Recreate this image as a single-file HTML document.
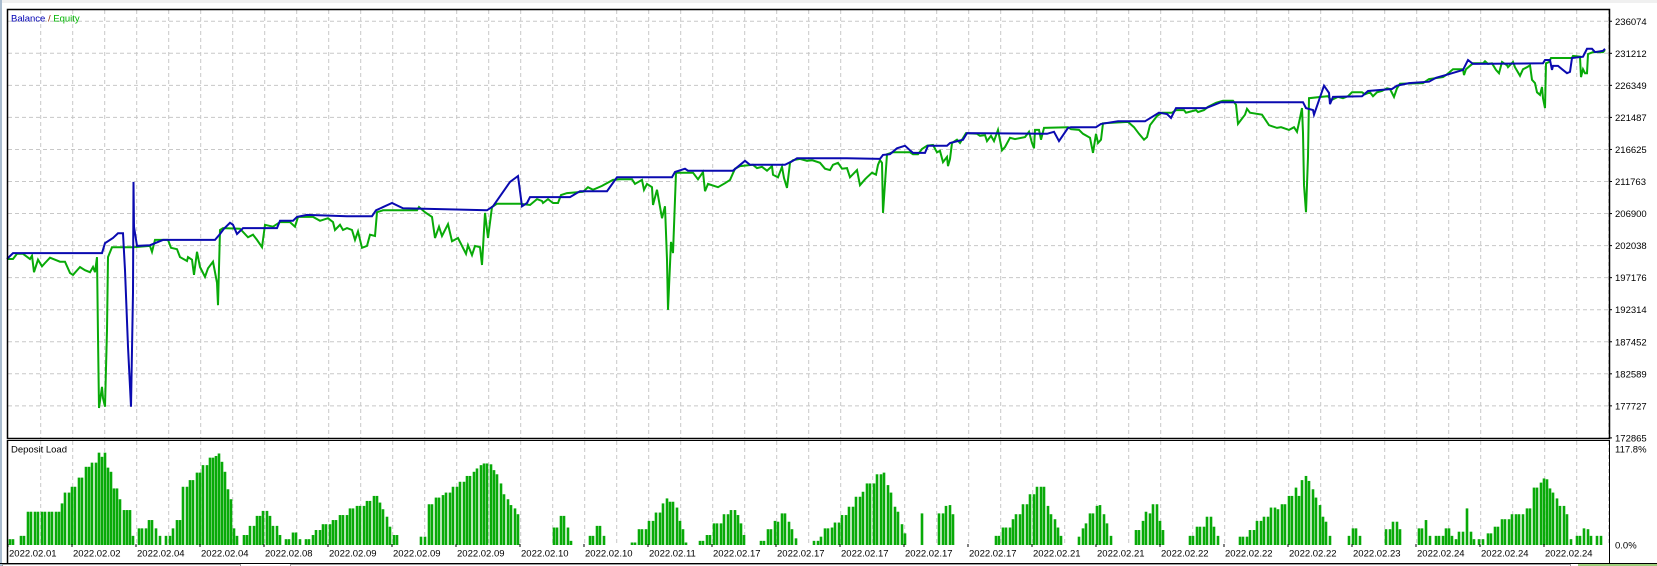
<!DOCTYPE html>
<html>
<head>
<meta charset="utf-8">
<style>
  html,body{margin:0;padding:0;background:#fff;}
  body{width:1657px;height:566px;overflow:hidden;}
  svg{display:block;font-family:"Liberation Sans",Arial,sans-serif;}
</style>
</head>
<body>
<svg id="chart" width="1657" height="566" viewBox="0 0 1657 566" xmlns="http://www.w3.org/2000/svg">
  <rect x="0" y="0" width="1657" height="566" fill="#ffffff"/>
  <rect x="0" y="0" width="1657" height="3" fill="#f0f0f0"/>
  <rect x="0" y="0" width="2" height="566" fill="#a9bccf"/>
  <g id="grid"></g>
  <g id="bars"></g>
  <g id="lines"></g>
  <g id="frames">
    <rect x="7.5" y="9.5" width="1602" height="429" fill="none" stroke="#000" stroke-width="1.5"/>
    <line x1="7.5" y1="440.5" x2="1609.5" y2="440.5" stroke="#000" stroke-width="1"/>
    <line x1="7.5" y1="440" x2="7.5" y2="563" stroke="#000" stroke-width="1.5"/>
    <line x1="1609.5" y1="440" x2="1609.5" y2="563" stroke="#000" stroke-width="1"/>
    <line x1="0" y1="563.5" x2="1657" y2="563.5" stroke="#000" stroke-width="1"/>
    <rect x="2.5" y="564.5" width="238" height="4" fill="#fff" stroke="#999"/>
    <rect x="290.5" y="564.5" width="1280" height="4" fill="#fff" stroke="#999"/>
    <rect x="1578" y="564" width="79" height="3" fill="#9ccf7a"/>
  </g>
  <text x="11" y="21.5" font-size="9.5"><tspan fill="#0000b4">Balance</tspan><tspan fill="#8b2a00"> / </tspan><tspan fill="#00b400">Equity</tspan></text>
  <text x="11" y="452.5" font-size="9.5" fill="#000">Deposit Load</text>
  <g id="yaxis"></g>
  <g id="xaxis"></g>
</svg>
<script>
// ---- data (balance/equity in thousands, time in chart time units) ----
const yTicks = ["236074","231212","226349","221487","216625","211763","206900","202038","197176","192314","187452","182589","177727","172865"];
const loadTicks = ["117.8%","0.0%"];
const dateLabels = ["2022.02.01","2022.02.02","2022.02.04","2022.02.04","2022.02.08","2022.02.09","2022.02.09","2022.02.09","2022.02.10","2022.02.10","2022.02.11","2022.02.17","2022.02.17","2022.02.17","2022.02.17","2022.02.17","2022.02.21","2022.02.21","2022.02.22","2022.02.22","2022.02.22","2022.02.23","2022.02.24","2022.02.24","2022.02.24"];

const balT = [7,13,23,102,105,113,118,123,125,128,131,133,133.5,134,137,150,163,215,220,224,230,233,237,243,277,280,293,297,307,347,372,376,392,403,487,493,510,518,522,527,530,570,580,607,617,672,675,685,688,733,745,750,785,793,797,847,880,883,890,897,905,910,913,925,928,947,950,963,967,1047,1054,1059,1068,1071,1096,1101,1118,1145,1159,1167,1171,1176,1206,1221,1303,1306,1313,1314,1324,1329,1330,1333,1362,1368,1392,1397,1409,1429,1436,1450,1463,1468,1473,1543,1545,1550,1552,1553,1558,1562,1567,1570,1572,1583,1587,1592,1595,1603,1605];
const balV = [200.0,200.9,200.9,200.9,202.4,203.2,203.9,203.9,198.3,186.7,177.6,194.9,211.7,204.9,202.0,202.1,202.9,202.9,203.8,204.6,205.5,205.2,203.8,204.7,204.7,205.8,205.8,206.4,206.7,206.5,206.5,207.4,208.5,207.7,207.4,208.0,211.7,212.6,208.0,208.5,209.4,209.4,210.3,210.3,212.4,212.4,213.2,213.7,213.4,213.4,214.9,214.3,214.3,214.9,215.3,215.3,215.2,215.8,215.9,216.8,217.2,216.5,216.1,216.1,217.2,217.2,217.6,218.1,219.1,219.0,219.3,217.9,219.9,220.0,220.0,220.5,220.9,220.9,222.2,222.0,221.4,222.9,222.9,223.8,223.8,222.9,222.6,221.9,226.3,225.2,223.5,224.6,224.7,225.5,225.8,226.3,226.7,226.9,227.5,228.1,228.7,230.2,229.6,229.7,230.2,230.2,228.7,229.3,229.3,228.8,228.2,228.4,230.5,230.7,231.9,231.9,231.4,231.6,231.9];

const eqT = [7,13,17,23,30,32,34,38,42,45,50,60,65,70,73,80,85,90,93,95,97,98,99,102,103,105,107,108,112,133,150,152,155,168,171,177,180,187,188,192,194,197,200,205,208,213,217,218,220,223,240,248,253,257,262,265,273,280,290,295,298,313,320,328,333,335,340,343,347,352,355,358,362,367,370,375,377,383,417,419,425,432,435,439,442,448,452,458,466,468,472,475,480,482,485,488,492,497,520,530,537,542,543,548,553,558,561,567,583,588,593,602,613,620,632,635,642,644,647,652,653,657,662,665,667,668,671,673,676,693,698,703,705,708,718,725,730,735,740,753,757,762,767,772,773,778,782,784,787,790,793,800,807,812,820,825,830,833,838,842,847,850,857,860,865,867,872,876,878,880,882,883,885,887,893,910,913,918,922,927,933,937,940,943,947,948,950,952,957,960,966,977,980,985,987,991,994,998,1002,1005,1010,1015,1025,1029,1032,1034,1035,1039,1041,1044,1068,1071,1079,1083,1090,1093,1096,1098,1101,1103,1128,1134,1139,1144,1147,1150,1157,1162,1172,1176,1184,1186,1196,1198,1204,1208,1216,1223,1233,1236,1238,1245,1247,1250,1262,1269,1277,1281,1289,1294,1297,1300,1302,1303,1304,1306,1308,1309,1321,1328,1331,1338,1343,1348,1352,1362,1365,1370,1373,1377,1382,1387,1390,1394,1397,1400,1423,1429,1443,1446,1453,1463,1464,1466,1473,1483,1485,1488,1492,1496,1499,1502,1507,1508,1513,1515,1520,1523,1527,1530,1532,1535,1537,1540,1542,1543,1545,1546,1549,1551,1572,1573,1580,1581,1583,1585,1587,1588,1593,1603,1605];
const eqV = [200.0,200.0,200.8,200.8,200.0,200.5,198.0,199.9,198.9,199.4,200.2,199.6,199.6,197.9,197.6,198.8,198.3,198.0,198.8,198.0,200.3,188.2,177.4,180.6,178.9,177.6,189.2,200.3,201.8,201.8,202.0,201.1,202.9,202.9,201.7,201.5,200.3,199.7,200.3,199.9,197.6,201.1,198.8,197.3,198.6,199.6,196.4,193.0,204.4,204.7,204.6,203.3,203.7,202.9,201.8,205.2,204.9,205.6,205.6,204.9,206.4,206.4,205.8,206.2,205.6,204.4,205.2,204.4,204.7,204.4,202.9,204.2,201.7,202.0,203.7,203.5,207.1,207.4,207.4,207.9,207.1,206.4,203.2,204.9,203.5,205.3,202.7,203.2,200.8,202.1,200.6,202.0,201.8,199.1,207.0,203.2,207.9,208.4,208.4,208.2,209.1,208.8,208.5,209.1,208.5,208.5,209.7,210.0,210.2,210.9,210.5,211.1,212.0,212.1,212.1,211.4,212.0,210.5,211.4,210.9,208.2,210.5,206.2,208.0,199.9,192.3,202.6,200.9,213.1,213.1,212.1,213.2,210.3,211.4,210.9,211.5,212.0,213.7,214.1,214.3,213.8,214.0,213.4,214.1,212.8,212.4,214.0,212.3,210.8,214.6,215.0,215.2,214.9,215.0,214.6,213.7,213.5,214.3,214.6,213.7,213.8,212.4,213.5,211.2,212.1,212.4,213.1,212.8,214.3,215.0,214.6,207.0,211.5,215.9,216.2,216.2,215.9,215.9,216.7,217.2,217.3,216.2,216.4,214.7,215.5,214.1,215.2,217.6,218.1,217.6,219.1,219.0,218.7,218.8,217.9,218.7,217.9,219.6,216.5,217.0,218.4,218.2,218.5,219.3,217.6,216.8,219.6,219.6,218.1,219.9,220.0,219.7,219.6,219.0,218.4,216.1,219.0,217.6,218.1,220.6,220.8,220.0,219.0,218.1,218.5,220.3,221.7,222.2,222.2,222.6,222.6,222.2,222.6,222.3,222.6,223.1,223.7,224.0,224.0,223.4,220.5,221.9,222.8,222.2,221.9,220.3,219.9,220.0,219.6,220.0,219.3,221.4,222.9,219.1,211.2,207.1,215.5,224.4,224.6,224.7,224.1,224.6,224.4,224.7,225.3,225.3,225.0,225.3,224.7,225.3,225.5,225.9,225.8,224.6,225.9,226.6,226.7,227.3,227.6,227.9,228.8,228.8,227.9,228.8,229.7,229.7,230.0,229.6,229.7,228.7,228.2,229.9,229.4,229.1,229.9,229.1,227.8,228.8,229.1,229.4,227.2,226.7,225.3,224.9,226.1,224.4,222.9,229.7,229.9,230.5,230.5,230.8,230.7,227.6,228.8,228.2,228.2,231.1,231.4,231.4,231.7];

const barT = [10,13,21,24,28,31,35,38,42,45,49,52,56,59,62,65,69,72,75,79,82,86,89,92,96,99,102,105,108,111,114,117,120,124,127,130,133,139,142,146,149,152,156,160,166,170,173,177,180,183,187,190,193,197,200,203,207,210,213,216,219,222,225,228,231,234,237,244,247,250,254,257,260,263,267,270,273,277,280,286,289,293,296,300,306,309,313,316,320,323,326,330,333,336,340,343,347,350,353,357,360,364,367,370,374,377,380,383,387,390,394,397,421,425,429,432,436,439,443,446,450,453,457,460,464,467,470,474,477,481,484,487,491,494,497,501,504,508,511,515,518,554,557,561,564,568,571,590,593,597,600,604,632,635,639,642,646,649,653,656,660,663,667,670,673,677,680,683,686,700,703,707,710,714,717,721,724,728,731,735,738,741,744,761,764,768,771,775,778,782,785,789,792,796,814,818,821,825,828,832,835,839,842,846,849,853,856,860,863,867,870,874,877,881,884,888,891,895,898,902,905,922,939,943,946,950,953,996,999,1003,1006,1010,1013,1016,1020,1023,1027,1030,1034,1037,1041,1044,1048,1051,1055,1058,1061,1079,1083,1086,1090,1093,1097,1100,1104,1107,1111,1136,1139,1143,1146,1150,1153,1157,1160,1163,1190,1193,1197,1200,1204,1207,1211,1214,1218,1240,1243,1247,1250,1254,1257,1261,1264,1268,1271,1275,1278,1282,1285,1289,1292,1296,1299,1302,1306,1309,1313,1316,1320,1323,1326,1330,1349,1353,1356,1360,1386,1390,1393,1397,1400,1419,1422,1426,1430,1436,1439,1443,1446,1449,1452,1456,1459,1463,1467,1471,1474,1479,1483,1488,1491,1495,1498,1502,1505,1509,1512,1516,1519,1523,1527,1530,1534,1537,1541,1544,1547,1550,1553,1557,1560,1564,1567,1571,1577,1580,1584,1588,1591,1597,1601];
const barV = [7,7,11,11,40,40,40,40,40,40,40,40,40,40,50,63,63,70,70,81,81,94,94,99,99,111,106,111,93,88,68,68,55,42,42,42,11,20,20,20,30,30,20,11,11,11,20,30,30,70,70,78,78,87,87,96,96,105,105,107,110,100,88,67,55,20,11,12,12,23,23,35,35,41,41,35,23,23,12,7,7,15,15,7,7,7,12,18,18,25,25,25,30,30,36,36,36,44,44,47,47,47,53,53,59,59,51,43,34,22,12,12,10,10,49,49,57,57,60,63,63,70,70,76,76,83,83,88,92,96,98,98,97,90,85,74,61,55,48,44,37,21,21,35,35,21,5,11,11,23,23,11,3,3,19,19,19,29,29,39,39,50,56,52,52,45,29,19,3,5,5,12,12,26,26,26,37,37,42,42,36,26,12,5,5,19,19,29,28,38,38,28,19,8,5,5,10,20,20,21,27,27,36,36,46,46,58,58,64,74,74,74,85,85,87,72,63,46,40,25,14,38,38,38,47,48,37,11,11,21,21,21,31,37,37,49,49,61,61,70,70,70,47,37,31,21,11,10,20,26,38,38,47,48,37,26,11,18,18,29,40,38,49,49,29,18,11,11,22,22,22,34,34,22,11,10,10,10,18,18,29,29,34,34,45,45,43,49,49,59,59,69,59,78,83,77,67,57,48,34,28,11,11,20,20,11,19,19,28,28,19,20,20,30,11,11,11,11,20,20,11,7,16,16,44,16,7,7,7,14,14,22,22,31,31,31,37,37,37,37,44,44,69,69,75,80,79,68,63,56,47,47,37,7,11,11,20,19,11,11,11];

// ---- axes ----
const NS = "http://www.w3.org/2000/svg";
const PX0 = 7, PX1 = 1609;          // plot x extent
const T0 = 7, T1 = 1609;            // time domain
const V0 = 172.865, VSTEP = 4.8624; // value domain (thousands)
const YBOT = 437.9, YGRID = 32.05;
const LOAD_MAX = 117.8, LBASE = 545, LH = 98;
function xScale(t){ return PX0 + (t - T0) / (T1 - T0) * (PX1 - PX0); }
function yScale(v){ return YBOT - (v - V0) / VSTEP * YGRID; }
function yLoad(p){ return LBASE - p / LOAD_MAX * LH; }

const grid = document.getElementById('grid');
// vertical grid lines
for (let k = 0; k < 50; k++) {
  const x = 40.7 + 32 * k;
  if (x >= PX1) break;
  const l1 = document.createElementNS(NS, 'line');
  l1.setAttribute('x1', x); l1.setAttribute('x2', x);
  l1.setAttribute('y1', 10); l1.setAttribute('y2', 438);
  l1.setAttribute('stroke', '#c8c8c8'); l1.setAttribute('stroke-dasharray', '4 3');
  
  
  grid.appendChild(l1);
  const l2 = document.createElementNS(NS, 'line');
  l2.setAttribute('x1', x); l2.setAttribute('x2', x);
  l2.setAttribute('y1', 441); l2.setAttribute('y2', 546);
  l2.setAttribute('stroke', '#c8c8c8'); l2.setAttribute('stroke-dasharray', '4 3');
  
  
  grid.appendChild(l2);
}
// horizontal grid + y labels
const yaxis = document.getElementById('yaxis');
yTicks.forEach((lab, i) => {
  const v = Number(lab) / 1000;
  const y = yScale(v);
  if (i < yTicks.length - 1) {
    const l = document.createElementNS(NS, 'line');
    l.setAttribute('x1', 8); l.setAttribute('x2', PX1);
    l.setAttribute('y1', y); l.setAttribute('y2', y);
    l.setAttribute('stroke', '#c8c8c8'); l.setAttribute('stroke-dasharray', '4 3');
    
    
    grid.appendChild(l);
  }
  const tk = document.createElementNS(NS, 'line');
  tk.setAttribute('x1', PX1); tk.setAttribute('x2', PX1 + 3);
  tk.setAttribute('y1', y); tk.setAttribute('y2', y);
  tk.setAttribute('stroke', '#000');
  
  
  yaxis.appendChild(tk);
  const t = document.createElementNS(NS, 'text');
  t.setAttribute('x', 1615); t.setAttribute('y', y + 3.5);
  t.setAttribute('font-size', '9.5'); t.setAttribute('fill', '#000');
  
  
  t.textContent = lab;
  yaxis.appendChild(t);
});
// load axis labels
[LOAD_MAX, 0].forEach((p, i) => {
  const t = document.createElementNS(NS, 'text');
  t.setAttribute('x', 1615); t.setAttribute('y', yLoad(p) + 3.5 + (i === 0 ? 2 : 0));
  t.setAttribute('font-size', '9.5'); t.setAttribute('fill', '#000');
  
  
  t.textContent = loadTicks[i];
  yaxis.appendChild(t);
});
// date labels
const xaxis = document.getElementById('xaxis');
dateLabels.forEach((lab, i) => {
  const x = 9 + 64 * i;
  const tk = document.createElementNS(NS, 'line');
  tk.setAttribute('x1', x - 1); tk.setAttribute('x2', x - 1);
  tk.setAttribute('y1', 544); tk.setAttribute('y2', 547);
  tk.setAttribute('stroke', '#000');
  
  
  xaxis.appendChild(tk);
  const t = document.createElementNS(NS, 'text');
  t.setAttribute('x', x); t.setAttribute('y', 556.5);
  t.setAttribute('font-size', '9.5'); t.setAttribute('fill', '#000');
  
  
  t.textContent = lab;
  xaxis.appendChild(t);
});
// deposit load bars
const bars = document.getElementById('bars');
barT.forEach((t, i) => {
  const x = xScale(t);
  const y = yLoad(barV[i]);
  const r = document.createElementNS(NS, 'rect');
  r.setAttribute('x', x - 1.3); r.setAttribute('y', y);
  r.setAttribute('width', 2.6); r.setAttribute('height', LBASE - y);
  r.setAttribute('fill', '#08aa08');
  
  
  bars.appendChild(r);
});
// lines
const lines = document.getElementById('lines');
function addLine(ts, vs, color, name){
  const pts = ts.map((t, i) => xScale(t).toFixed(1) + ',' + yScale(vs[i]).toFixed(1)).join(' ');
  const p = document.createElementNS(NS, 'polyline');
  p.setAttribute('points', pts);
  p.setAttribute('fill', 'none'); p.setAttribute('stroke', color);
  p.setAttribute('stroke-width', '2'); p.setAttribute('stroke-linejoin', 'miter');
  
  
  lines.appendChild(p);
}
addLine(eqT, eqV, '#08aa08', 'equity-line');
addLine(balT, balV, '#0a0ab0', 'balance-line');
</script>
</body>
</html>
